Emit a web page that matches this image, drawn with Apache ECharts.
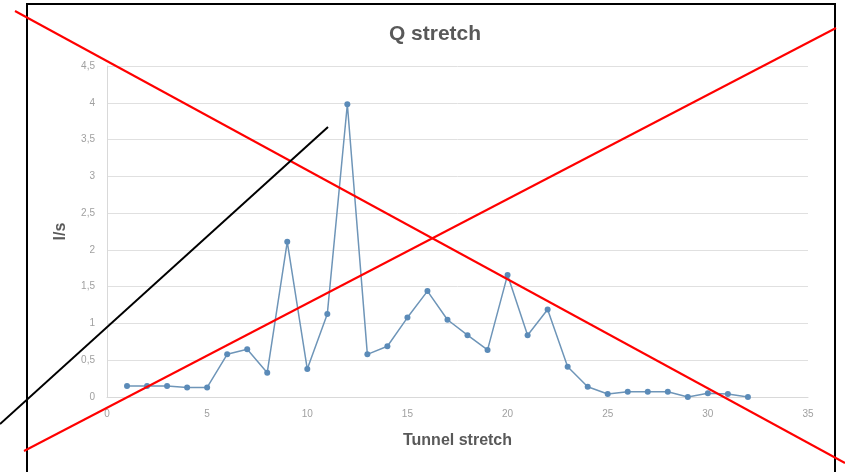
<!DOCTYPE html>
<html>
<head>
<meta charset="utf-8">
<script src="https://cdn.jsdelivr.net/npm/echarts@6/dist/echarts.min.js"></script>
<style>html,body{margin:0;padding:0;background:#fff}#c{width:845px;height:472px}</style>
</head>
<body>
<div id="c"></div>
<script>
var stretches = [1,2,3,4,5,6,7,8,9,10,11,12,13,14,15,16,17,18,19,20,21,22,23,24,25,26,27,28,29,30,31,32];
var flow = [0.15,0.15,0.15,0.13,0.13,0.58,0.65,0.33,2.11,0.38,1.13,3.98,0.58,0.69,1.08,1.44,1.05,0.84,0.64,1.66,0.84,1.19,0.41,0.14,0.04,0.07,0.07,0.07,0.0,0.05,0.04,0.0];
var title = 'Q stretch';
var xName = 'Tunnel stretch';
var yName = 'l/s';

var chart = echarts.init(document.getElementById('c'), null, {renderer:'canvas'});
chart.setOption({
  animation:false,
  backgroundColor:'#fff',
  title:{text:title,left:430,top:19,textAlign:'center',
    textStyle:{fontFamily:'Liberation Sans',fontWeight:'bold',fontSize:21,color:'#595959'}},
  grid:{left:107,right:37,top:66,bottom:75},
  xAxis:{type:'value',min:0,max:35,interval:5,
    name:xName,nameLocation:'middle',nameGap:36,
    nameTextStyle:{fontFamily:'Liberation Sans',fontWeight:'bold',fontSize:16,color:'#595959'},
    axisLine:{show:true,lineStyle:{color:'#d9d9d9'}},axisTick:{show:false},
    splitLine:{show:false},
    axisLabel:{color:'#a0a0a0',fontSize:10,margin:12,fontFamily:'Liberation Sans'}},
  yAxis:{type:'value',min:0,max:4.5,interval:0.5,
    name:yName,nameLocation:'middle',nameGap:38,
    nameTextStyle:{fontFamily:'Liberation Sans',fontWeight:'bold',fontSize:16,color:'#595959'},
    axisLine:{show:true,lineStyle:{color:'#d9d9d9'}},axisTick:{show:false},
    splitLine:{show:true,lineStyle:{color:'#e0e0e0'}},
    axisLabel:{color:'#a0a0a0',fontSize:10,margin:12,fontFamily:'Liberation Sans',
      formatter:function(v){return String(v).replace('.',',');}}},
  series:[{type:'line',data:stretches.map(function(s,i){return [s,flow[i]];}),
    symbol:'circle',symbolSize:6,
    lineStyle:{color:'#6e95b8',width:1.5},
    itemStyle:{color:'#5b8bb8'}}],
  graphic:[
    {type:'polyline',shape:{points:[[27,472],[27,4],[835,4],[835,472]]},style:{fill:null,stroke:'#000',lineWidth:2},z:100},
    {type:'line',shape:{x1:15,y1:11,x2:845,y2:463},style:{stroke:'#ff0000',lineWidth:2},z:101},
    {type:'line',shape:{x1:24,y1:451,x2:836,y2:28},style:{stroke:'#ff0000',lineWidth:2},z:101},
    {type:'line',shape:{x1:0,y1:424,x2:328,y2:127},style:{stroke:'#000',lineWidth:2},z:101}
  ]
});
</script>
</body>
</html>
